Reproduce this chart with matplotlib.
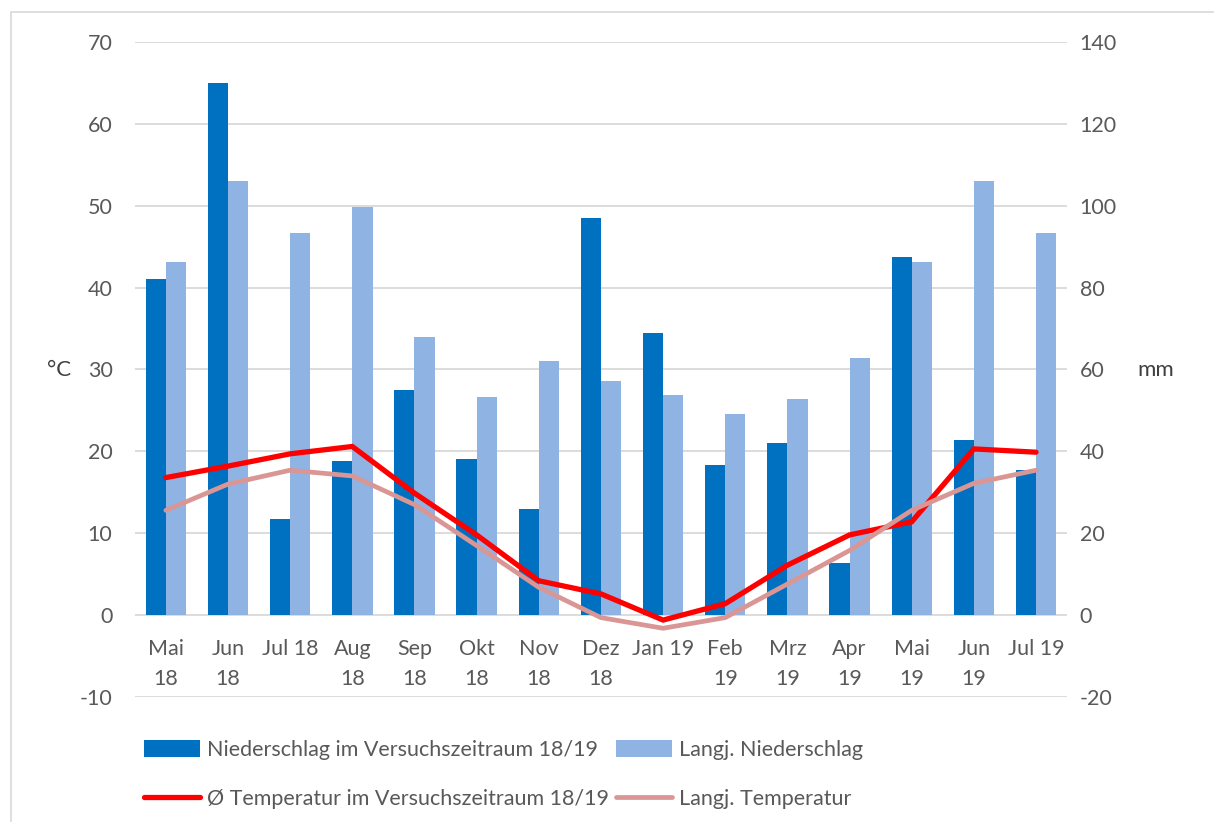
import matplotlib.pyplot as plt
import numpy as np
from matplotlib.patches import Rectangle

plt.rcParams['font.family'] = ['Lato', 'DejaVu Sans']
plt.rcParams['axes.unicode_minus'] = False

# Monate (Beschriftung zweizeilig wie im Original)
months = ['Mai\n18', 'Jun\n18', 'Jul 18', 'Aug\n18', 'Sep\n18', 'Okt\n18', 'Nov\n18', 'Dez\n18',
          'Jan 19', 'Feb\n19', 'Mrz\n19', 'Apr\n19', 'Mai\n19', 'Jun\n19', 'Jul 19']

# Niederschlag in mm (rechte Achse)
rain_1819 = [82, 130, 23.5, 37.7, 55, 38.2, 26, 97, 68.8, 36.7, 42, 12.7, 87.5, 42.7, 35.4]
rain_longterm = [86.2, 106, 93.3, 99.8, 68, 53.4, 62, 57.2, 53.7, 49.1, 52.7, 62.7, 86.2, 106, 93.3]

# Temperatur in °C (linke Achse)
temp_1819 = [16.8, 18.2, 19.7, 20.6, 14.9, 9.8, 4.2, 2.6, -0.6, 1.4, 6.1, 9.8, 11.4, 20.3, 19.9]
temp_longterm = [12.8, 16.0, 17.7, 17.0, 13.5, 8.5, 3.4, -0.3, -1.6, -0.3, 3.8, 7.9, 12.8, 16.1, 17.7]

fs = 15.5
txt = '#595959'

fig = plt.figure(figsize=(12.14, 8.22), dpi=100)
ax = fig.add_axes([0.111, 0.152, 0.768, 0.797])
ax2 = ax.twinx()

x = np.arange(len(months))
w = 0.325

# Balken auf mm-Achse
b1 = ax2.bar(x - w / 2, rain_1819, width=w, color='#0070C0', label='Niederschlag im Versuchszeitraum 18/19')
b2 = ax2.bar(x + w / 2, rain_longterm, width=w, color='#8FB4E3', label='Langj. Niederschlag')
ax2.set_ylim(-20, 140)
ax2.set_yticks(range(-20, 141, 20))
ax2.grid(axis='y', color='#D9D9D9', lw=1.3)
ax2.set_axisbelow(True)

# Linien auf °C-Achse, ueber den Balken
l1, = ax.plot(x, temp_1819, color='#FF0000', lw=3.8, label='Ø Temperatur im Versuchszeitraum 18/19',
              solid_capstyle='round', solid_joinstyle='miter')
l2, = ax.plot(x, temp_longterm, color='#D99694', lw=3.4, label='Langj. Temperatur',
              solid_capstyle='round', solid_joinstyle='miter')
ax.set_ylim(-10, 70)
ax.set_yticks(range(-10, 71, 10))
ax.set_zorder(ax2.get_zorder() + 1)
ax.patch.set_visible(False)

# Kategorienbeschriftung an der Nulllinie
ax.spines['bottom'].set_position(('data', 0))
ax.set_xlim(-0.5, len(months) - 0.5)
ax.set_xticks(x)
ax.set_xticklabels(months, fontsize=fs, color=txt, linespacing=1.65)

for a in (ax, ax2):
    for s in a.spines.values():
        s.set_visible(False)
    a.tick_params(length=0, labelsize=fs, labelcolor=txt)
ax.tick_params(axis='y', pad=16)
ax2.tick_params(axis='y', pad=9)
ax.tick_params(axis='x', pad=17)

fig.text(0.039, 0.55, '°C', fontsize=16, color='#404040', va='center')
fig.text(0.937, 0.55, 'mm', fontsize=16, color='#404040', va='center')

fig.legend([b1, l1, b2, l2], [h.get_label() for h in (b1, l1, b2, l2)],
           ncol=2, loc='upper left', bbox_to_anchor=(0.119, 0.1), frameon=False,
           fontsize=fs, handlelength=2.6, handleheight=0.85, handletextpad=0.3,
           columnspacing=0.35, labelspacing=1.35, borderpad=0, borderaxespad=0,
           labelcolor=txt)

# Rahmen des Diagrammbereichs
fig.patches.append(Rectangle((0.009, -0.01), 1.0, 0.996, transform=fig.transFigure,
                             fill=False, edgecolor='#D9D9D9', lw=1.2))

fig.savefig('out.png', dpi=100)
